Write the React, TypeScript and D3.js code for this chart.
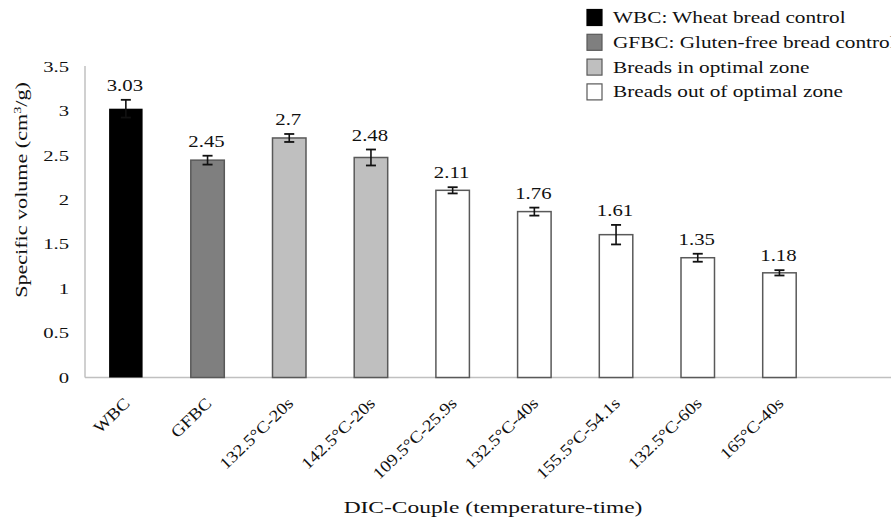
import React from "react";
import * as d3 from "d3";

const categories = ["WBC", "GFBC", "132.5°C-20s", "142.5°C-20s", "109.5°C-25.9s", "132.5°C-40s", "155.5°C-54.1s", "132.5°C-60s", "165°C-40s"];
const values = [3.03, 2.45, 2.7, 2.48, 2.11, 1.87, 1.61, 1.35, 1.18];
const errors = [0.1, 0.05, 0.045, 0.09, 0.035, 0.045, 0.11, 0.045, 0.03];
const valueLabels = ["3.03", "2.45", "2.7", "2.48", "2.11", "1.76", "1.61", "1.35", "1.18"];
const groups = [0, 1, 2, 2, 3, 3, 3, 3, 3];
const legendLabels = ["WBC: Wheat bread control", "GFBC: Gluten-free bread control", "Breads in optimal zone", "Breads out of optimal zone"];
const yTicks = [0, 0.5, 1, 1.5, 2, 2.5, 3, 3.5];

const fills = ["#000000", "#7f7f7f", "#bfbfbf", "#ffffff"];
const strokes = ["#000000", "#595959", "#595959", "#595959"];
const FONT = "'Liberation Serif', 'Times New Roman', serif";

type TProps = { x: number; y: number; sx?: number; rot?: number; anchor?: string; size: number; children: React.ReactNode };
function T({ x, y, sx = 1.3, rot = 0, anchor = "start", size, children }: TProps) {
  return (
    <text transform={`translate(${x},${y}) rotate(${rot}) scale(${sx},1)`} textAnchor={anchor} fontSize={size} fill="#111">
      {children}
    </text>
  );
}

export default function App() {
  const W = 891, H = 518;
  const x0 = 85, y0 = 377.5, yTop = 67;
  const x = d3.scaleBand<string>().domain(categories).range([x0, x0 + 81.7 * 9]).paddingInner(0.59).paddingOuter(0.295);
  const y = d3.scaleLinear().domain([0, 3.5]).range([y0, yTop]);
  const bw = x.bandwidth();

  return (
    <svg width={W} height={H} style={{ position: "absolute", left: 0, top: 0, background: "#fff" }} fontFamily={FONT}>
      <rect x={0} y={0} width={W} height={H} fill="#fff" />
      {/* axes */}
      <line x1={x0} x2={x0} y1={yTop - 1} y2={y0} stroke="#c0c0c0" strokeWidth={1.5} />
      <line x1={x0} x2={W} y1={y0} y2={y0} stroke="#c0c0c0" strokeWidth={1.5} />
      {yTicks.map((t) => (
        <T key={t} x={69} y={y(t) + 5} anchor="end" size={15} sx={1.38}>
          {t}
        </T>
      ))}
      {/* bars */}
      {categories.map((c, i) => {
        const g = groups[i];
        const bx = x(c)!;
        const cx = bx + bw / 2;
        const top = y(values[i]);
        const eTop = y(values[i] + errors[i]);
        const eBot = y(values[i] - errors[i]);
        return (
          <g key={c}>
            <rect x={bx} y={top} width={bw} height={y0 - top} fill={fills[g]} stroke={strokes[g]} strokeWidth={g === 0 ? 0 : 1.5} />
            <line x1={cx} x2={cx} y1={eTop} y2={eBot} stroke="#111" strokeWidth={1.6} />
            <line x1={cx - 5} x2={cx + 5} y1={eTop} y2={eTop} stroke="#111" strokeWidth={1.8} />
            <line x1={cx - 5} x2={cx + 5} y1={eBot} y2={eBot} stroke="#111" strokeWidth={1.8} />
            <T x={cx - 1} y={eTop - 9} anchor="middle" size={16} sx={1.3}>
              {valueLabels[i]}
            </T>
            <T x={cx + 5} y={y0 + 27} rot={-44} anchor="end" size={16.5} sx={1.14}>
              {c}
            </T>
          </g>
        );
      })}
      {/* axis titles */}
      <T x={27} y={190} rot={-90} anchor="middle" size={17} sx={1.3}>
        Specific volume (cm<tspan dy={-6} fontSize={11}>3</tspan><tspan dy={6}>/g)</tspan>
      </T>
      <T x={493} y={513} anchor="middle" size={17} sx={1.38}>
        DIC-Couple (temperature-time)
      </T>
      {/* legend */}
      {legendLabels.map((l, i) => (
        <g key={l}>
          <rect x={587} y={9.5 + i * 24.8} width={15} height={16} fill={fills[i]} stroke={i === 0 ? "#000" : "#595959"} strokeWidth={1.2} />
          <T x={613} y={23 + i * 24.8} size={17} sx={1.25}>
            {l}
          </T>
        </g>
      ))}
    </svg>
  );
}
